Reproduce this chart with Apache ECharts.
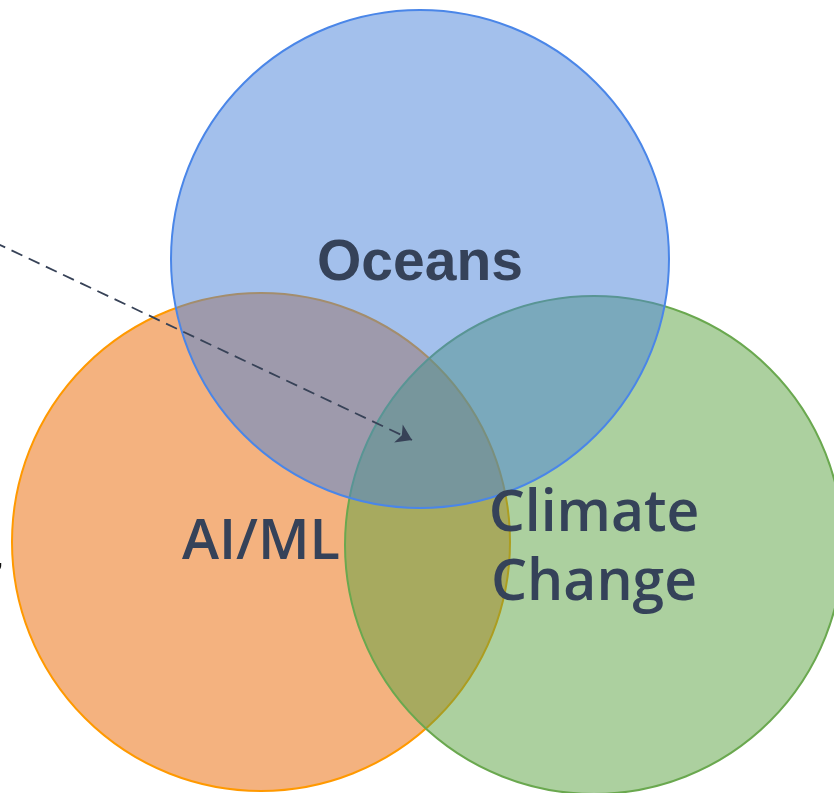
<!DOCTYPE html>
<html>
<head>
<meta charset="utf-8">
<title>Oceans · AI/ML · Climate Change</title>
<script src="https://cdn.jsdelivr.net/npm/echarts@6/dist/echarts.min.js"></script>
<style>
  html, body { margin: 0; padding: 0; background: #ffffff; }
  #chart { width: 834px; height: 793px; }
</style>
</head>
<body>
<div id="chart"></div>
<script>
// Sets, in drawing order (last one is painted on top)
const setNames   = ['AI/ML', 'Climate\nChange', 'Oceans'];
const setCenterX = [261, 594, 420];
const setCenterY = [542, 545, 259];
const setRadius  = [249, 249, 249];

// Dashed pointer into the triple overlap
const pointerFrom = [-40, 226];
const pointerTo   = [412, 440];

const fills   = ['rgb(233,101,0)', 'rgb(89,161,63)', 'rgb(71,129,217)'];
const strokes = ['#ff9900', '#6aa84f', '#4a86e8'];
const labelFonts = [
  { fontFamily: 'Open Sans', fontWeight: 600, fontSize: 56, lineHeight: 69 },
  { fontFamily: 'Open Sans', fontWeight: 600, fontSize: 57, lineHeight: 69 },
  { fontFamily: 'Liberation Sans', fontWeight: 'bold', fontSize: 57, lineHeight: 64 }
];
const labelOffsetY = [1, 4, 5];
const textColor = '#354259';

const chart = echarts.init(document.getElementById('chart'), null, { renderer: 'canvas' });

const circleData = setNames.map((n, i) => [setCenterX[i], setCenterY[i], setRadius[i], n]);

chart.setOption({
  animation: false,
  backgroundColor: '#ffffff',
  grid: { left: 0, right: 0, top: 0, bottom: 0, containLabel: false },
  xAxis: { type: 'value', min: 0, max: 834, show: false },
  yAxis: { type: 'value', min: 0, max: 793, inverse: true, show: false },
  series: [
    {
      type: 'custom',
      coordinateSystem: 'cartesian2d',
      clip: false,
      data: circleData,
      encode: { x: 0, y: 1 },
      renderItem: function (params, api) {
        const i = params.dataIndex;
        const c = api.coord([api.value(0), api.value(1)]);
        const r = api.size([api.value(2), 0])[0];
        return {
          type: 'group',
          children: [
            {
              type: 'circle',
              shape: { cx: c[0], cy: c[1], r: r },
              style: { fill: fills[i], opacity: 0.5 }
            },
            {
              type: 'circle',
              shape: { cx: c[0], cy: c[1], r: r },
              style: { fill: 'none', stroke: strokes[i], lineWidth: 2 }
            }
          ]
        };
      },
      z: 1
    },
    {
      type: 'custom',
      coordinateSystem: 'cartesian2d',
      clip: false,
      data: circleData,
      encode: { x: 0, y: 1 },
      renderItem: function (params, api) {
        const i = params.dataIndex;
        const c = api.coord([api.value(0), api.value(1)]);
        const f = labelFonts[i];
        return {
          type: 'text',
          x: c[0],
          y: c[1] + labelOffsetY[i],
          style: {
            text: setNames[i],
            fill: textColor,
            fontFamily: f.fontFamily,
            fontWeight: f.fontWeight,
            fontSize: f.fontSize,
            lineHeight: f.lineHeight,
            align: 'center',
            verticalAlign: 'middle'
          }
        };
      },
      z: 5
    },
    {
      type: 'lines',
      coordinateSystem: 'cartesian2d',
      polyline: false,
      symbol: ['none', 'arrow'],
      symbolSize: 15,
      lineStyle: { color: '#374257', width: 1.8, type: [12, 7], opacity: 1 },
      data: [{ coords: [pointerFrom, pointerTo] }],
      z: 6
    }
  ],
  graphic: [
    {
      type: 'text',
      left: -3,
      top: 550,
      style: { text: ',', fill: '#111111', fontSize: 20, fontWeight: 'bold', fontFamily: 'Liberation Sans' }
    }
  ]
});
</script>
</body>
</html>
